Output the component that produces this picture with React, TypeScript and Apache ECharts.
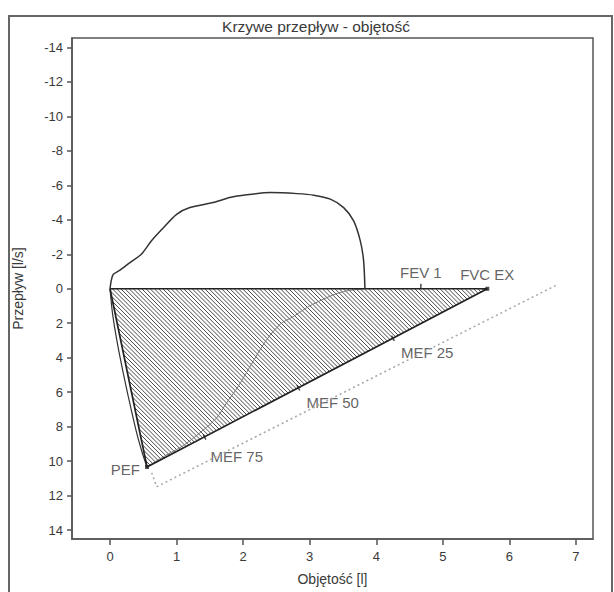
import React, { useEffect, useRef } from "react";
import * as echarts from "echarts";

// Inspiratory limb (negative flow, drawn above 0 on inverted axis)
const INSP_X = [0, 0.02, 0.05, 0.15, 0.3, 0.47, 0.62, 0.78, 1.0, 1.2, 1.55, 1.8, 2.05, 2.41, 2.81, 3.06, 3.31, 3.51, 3.66, 3.76, 3.81, 3.83];
const INSP_Y = [0, -0.5, -0.84, -1.08, -1.52, -2.0, -2.77, -3.45, -4.32, -4.71, -5.0, -5.29, -5.45, -5.58, -5.52, -5.43, -5.2, -4.71, -3.94, -2.78, -1.62, 0];

// Expiratory limb: rise to PEF (outer edge)
const EXP_OUT_X = [0, 0.04, 0.12, 0.205, 0.275, 0.39, 0.475, 0.556];
const EXP_OUT_Y = [0, 1.5, 3.36, 5.0, 6.26, 8.2, 9.4, 10.34];

// Expiratory limb: descent from PEF to end (inner curve)
const EXP_IN_X = [0.556, 0.8, 1.1, 1.4, 1.6, 1.75, 1.92, 2.1, 2.35, 2.56, 2.75, 3.0, 3.35, 3.56, 3.83];
const EXP_IN_Y = [10.34, 9.75, 9.1, 8.2, 7.5, 6.63, 5.7, 4.54, 2.97, 2.05, 1.62, 1.0, 0.36, 0.12, 0];

// Hatched triangle: origin, FVC EX, PEF
const TRI_X = [0, 5.668, 0.556];
const TRI_Y = [0, 0, 10.34];

// Dotted reference line
const DOT_X = [0.626, 0.7, 6.7];
const DOT_Y = [10.67, 11.49, -0.2];

// Marked points
const MARK_NAMES = ["FEV 1", "FVC EX", "MEF 25", "MEF 50", "MEF 75", "PEF"];
const MARK_X = [4.67, 5.668, 4.25, 2.83, 1.42, 0.556];
const MARK_Y = [0, 0, 2.87, 5.75, 8.6, 10.34];

const X_TICKS = [0, 1, 2, 3, 4, 5, 6, 7];
const Y_TICKS = [-14, -12, -10, -8, -6, -4, -2, 0, 2, 4, 6, 8, 10, 12, 14];

const FONT = "Liberation Sans, Arial, sans-serif";
const TXT = "#3a3a3a";

export default function App() {
  const ref = useRef<HTMLDivElement>(null);
  useEffect(() => {
    if (!ref.current) return;
    const chart = echarts.init(ref.current, undefined, { renderer: "svg" });
    const pair = (xs: number[], ys: number[]) => xs.map((x, i) => [x, ys[i]]);

    const labelCfg: Record<string, any> = {
      "FEV 1": { align: "center", offset: [0, -14] },
      "FVC EX": { align: "center", offset: [0, -14] },
      "MEF 25": { align: "left", offset: [8, 14] },
      "MEF 50": { align: "left", offset: [8, 15] },
      "MEF 75": { align: "left", offset: [6, 20] },
      PEF: { align: "right", offset: [-7, 3] },
    };
    const tickCfg: Record<string, any> = {
      "FEV 1": { symbolSize: [1.5, 5], symbolRotate: 0, symbolOffset: [0, -2.5] },
      "FVC EX": { symbolSize: [4, 4], symbolRotate: 0, symbolOffset: [0, 0] },
      "MEF 25": { symbolSize: [1.5, 6], symbolRotate: 27.6, symbolOffset: [0, 0] },
      "MEF 50": { symbolSize: [1.5, 6], symbolRotate: 27.6, symbolOffset: [0, 0] },
      "MEF 75": { symbolSize: [1.5, 6], symbolRotate: 27.6, symbolOffset: [0, 0] },
      PEF: { symbolSize: [4, 4], symbolRotate: 0, symbolOffset: [0, 0] },
    };

    const markData = MARK_NAMES.map((n, i) => ({
      value: [MARK_X[i], MARK_Y[i]],
      name: n,
      symbol: "rect",
      ...tickCfg[n],
      label: {
        show: true,
        formatter: n,
        position: "inside",
        verticalAlign: "middle",
        color: TXT,
        fontSize: 15,
        fontFamily: FONT,
        ...labelCfg[n],
      },
    }));

    chart.setOption({
      animation: false,
      backgroundColor: "#fff",
      title: {
        text: "Krzywe przepływ - objętość",
        left: 311,
        top: 13,
        textAlign: "center",
        textStyle: { fontSize: 15.5, fontWeight: "normal", color: TXT, fontFamily: FONT },
      },
      graphic: [
        {
          type: "rect",
          shape: { x: 9, y: 16, width: 603, height: 620 },
          style: { fill: "none", stroke: "#666", lineWidth: 2 },
          silent: true,
        },
      ],
      grid: {
        left: 72,
        right: 21,
        top: 38,
        bottom: 53,
        show: true,
        borderColor: "#555",
        borderWidth: 1.5,
        backgroundColor: "transparent",
      },
      xAxis: {
        type: "value",
        min: -0.571,
        max: 7.256,
        name: "Objętość [l]",
        nameLocation: "middle",
        nameGap: 33,
        nameTextStyle: { fontSize: 14, color: TXT, fontFamily: FONT },
        axisLine: { show: true, onZero: false, lineStyle: { color: "#555", width: 1.5 } },
        axisTick: { show: true, length: 6, customValues: X_TICKS, lineStyle: { color: "#555", width: 1.5 } },
        axisLabel: { customValues: X_TICKS, margin: 11, fontSize: 13, color: TXT, fontFamily: FONT },
        splitLine: { show: false },
      },
      yAxis: {
        type: "value",
        inverse: true,
        min: -14.55,
        max: 14.52,
        name: "Przepływ [l/s]",
        nameLocation: "middle",
        nameGap: 47,
        nameTextStyle: { fontSize: 14, color: TXT, fontFamily: FONT },
        axisLine: { show: true, onZero: false, lineStyle: { color: "#555", width: 1.5 } },
        axisTick: { show: true, length: 5, customValues: Y_TICKS, lineStyle: { color: "#555", width: 1.5 } },
        axisLabel: { customValues: Y_TICKS, margin: 9, fontSize: 13, color: TXT, fontFamily: FONT },
        splitLine: { show: false },
      },
      series: [
        {
          type: "custom",
          coordinateSystem: "cartesian2d",
          silent: true,
          clip: false,
          data: [[TRI_X[0], TRI_Y[0]]],
          renderItem: (_params: any, api: any) => {
            const pts = TRI_X.map((x, i) => api.coord([x, TRI_Y[i]]));
            const step = 4.2;
            const ds = pts.map((p: number[]) => p[1] - p[0]);
            const cMin = Math.min(...ds);
            const cMax = Math.max(...ds);
            const children: any[] = [];
            for (let c = Math.ceil(cMin / step) * step; c <= cMax; c += step) {
              const hits: number[][] = [];
              for (let i = 0; i < 3; i++) {
                const P = pts[i];
                const Q = pts[(i + 1) % 3];
                const den = Q[1] - P[1] - (Q[0] - P[0]);
                if (Math.abs(den) < 1e-9) continue;
                const t = (c - (P[1] - P[0])) / den;
                if (t >= 0 && t <= 1) hits.push([P[0] + t * (Q[0] - P[0]), P[1] + t * (Q[1] - P[1])]);
              }
              if (hits.length >= 2) {
                hits.sort((a, b) => a[0] - b[0]);
                const a = hits[0];
                const b = hits[hits.length - 1];
                children.push({
                  type: "line",
                  shape: { x1: a[0], y1: a[1], x2: b[0], y2: b[1] },
                  style: { stroke: "#4a4a4a", lineWidth: 1 },
                });
              }
            }
            return { type: "group", children };
          },
        },
        {
          type: "line",
          data: pair(DOT_X, DOT_Y),
          symbol: "none",
          silent: true,
          lineStyle: { color: "#aaa", width: 1.6, type: [2, 3] },
        },
        {
          type: "line",
          data: pair(EXP_IN_X, EXP_IN_Y),
          symbol: "none",
          smooth: 0.3,
          silent: true,
          lineStyle: { color: "#777", width: 1 },
        },
        {
          type: "line",
          data: pair(EXP_OUT_X, EXP_OUT_Y),
          symbol: "none",
          smooth: 0.3,
          silent: true,
          lineStyle: { color: "#333", width: 1.2 },
        },
        {
          type: "line",
          data: pair([...TRI_X, TRI_X[0]], [...TRI_Y, TRI_Y[0]]),
          symbol: "none",
          silent: true,
          lineStyle: { color: "#222", width: 1.7 },
        },
        {
          type: "line",
          data: pair(INSP_X, INSP_Y),
          symbol: "none",
          smooth: 0.25,
          silent: true,
          lineStyle: { color: "#333", width: 1.5 },
        },
        {
          type: "scatter",
          data: markData,
          silent: true,
          itemStyle: { color: "#222" },
        },
      ],
    });
    return () => chart.dispose();
  }, []);
  return <div ref={ref} style={{ position: "fixed", left: 0, top: 0, width: 614, height: 592 }} />;
}
